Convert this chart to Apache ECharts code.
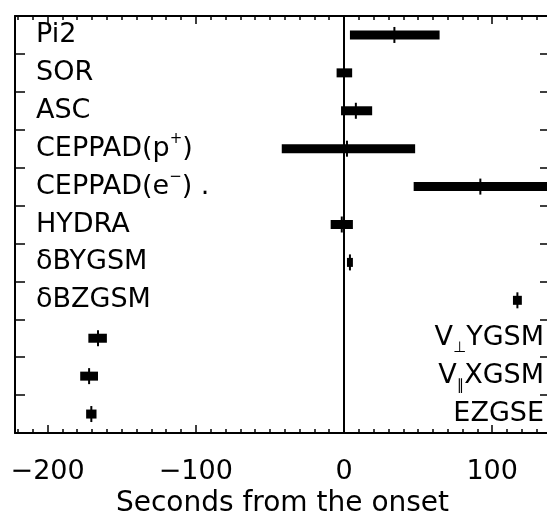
<!DOCTYPE html>
<html>
<head>
<meta charset="utf-8">
<script src="https://cdn.jsdelivr.net/npm/echarts@6/dist/echarts.min.js"></script>
<style>
  html, body { margin: 0; padding: 0; background: #fff; }
  #main { width: 547px; height: 511px; }
</style>
</head>
<body>
<div id="main"></div>
<script>
// rows, top to bottom
const categories = ['Pi2', 'SOR', 'ASC', 'CEPPAD(p+)', 'CEPPAD(e-)', 'HYDRA', 'δBYGSM', 'δBZGSM', 'V⊥YGSM', 'V∥XGSM', 'EZGSE'];
// how the labels are written (rich text for the small super/subscripts)
const rowLabels = ['Pi2', 'SOR', 'ASC', 'CEPPAD(p{sup|+})', 'CEPPAD(e{sup|−}) .', 'HYDRA', 'δBYGSM', 'δBZGSM', 'V{sub|⊥}YGSM', 'V{sub|∥}XGSM', 'EZGSE'];
const leftRows = 8; // first 8 labels on the left, the rest on the right

// seconds from the onset: start / end of the range and the centre mark
const startSec = [4, -5, -2, -42, 47, -9, 2, 114, -172.5, -178, -174];
const endSec = [64.5, 5.5, 19, 48, 138, 6, 6, 120, -160, -166, -167];
const midSec = [34, 0, 8, 2, 92, -1.5, 4, 117, -166, -172, -170.5];

const majorTicks = [-200, -100, 0, 100];
const minorTicks = [-220, -210, -190, -180, -170, -160, -150, -140, -130, -120, -110,
  -90, -80, -70, -60, -50, -40, -30, -20, -10,
  10, 20, 30, 40, 50, 60, 70, 80, 90, 110, 120, 130];

const font = 'DejaVu Sans';
const xMin = -222, xMax = 139;

let chart = echarts.init(document.getElementById('main'));

let richStyles = {
  sup: { fontSize: 15, fontFamily: font, color: '#000', verticalAlign: 'top', lineHeight: 15 },
  sub: { fontSize: 15, fontFamily: font, color: '#000', verticalAlign: 'bottom', lineHeight: 15 }
};

function renderItem(params, api) {
  let row = api.value(3);
  let a = api.coord([api.value(0), row]);
  let b = api.coord([api.value(1), row]);
  let m = api.coord([api.value(2), row]);
  let cs = params.coordSys;
  let rect = echarts.graphic.clipRectByRect(
    { x: a[0], y: a[1] - 4.5, width: b[0] - a[0], height: 9 },
    { x: cs.x, y: cs.y, width: cs.width, height: cs.height }
  );
  return {
    type: 'group',
    children: [
      { type: 'rect', shape: rect, style: { fill: '#000' } },
      { type: 'line', shape: { x1: m[0], y1: m[1] - 8, x2: m[0], y2: m[1] + 8 }, style: { stroke: '#000', lineWidth: 2 } }
    ]
  };
}

function xAxisOf(pos, ticks, len, withLine, withLabel) {
  return {
    type: 'value',
    position: pos,
    min: xMin,
    max: xMax,
    splitLine: { show: false },
    axisLine: { show: withLine, onZero: false, lineStyle: { color: '#000', width: 2 } },
    axisTick: { show: true, inside: true, length: len, customValues: ticks, lineStyle: { color: '#000', width: 1.5 } },
    axisLabel: {
      show: withLabel,
      customValues: majorTicks,
      margin: 25,
      fontSize: 27,
      fontFamily: font,
      color: '#000',
      formatter: v => v < 0 ? '−' + Math.abs(v) : String(v)
    },
    name: withLabel ? 'Seconds from the onset' : '',
    nameLocation: 'middle',
    nameGap: 43,
    nameTextStyle: { fontSize: 28, fontFamily: font, color: '#000' }
  };
}

function yAxisOf(pos, showLabel) {
  return {
    type: 'category',
    position: pos,
    inverse: true,
    data: categories,
    axisLine: { show: true, onZero: false, lineStyle: { color: '#000', width: 2 } },
    axisTick: { show: true, inside: true, length: 10, lineStyle: { color: '#000', width: 1.5 } },
    splitLine: { show: false },
    axisLabel: {
      inside: true,
      margin: pos === 'left' ? 21 : 6,
      fontSize: 27,
      fontFamily: font,
      color: '#000',
      lineHeight: 34,
      formatter: (v, i) => showLabel(i) ? rowLabels[i] : '',
      rich: richStyles
    }
  };
}

let option = {
  animation: false,
  backgroundColor: '#fff',
  grid: { left: 15, top: 16, width: 535, height: 417, outerBoundsMode: 'none', containLabel: false },
  xAxis: [
    xAxisOf('bottom', majorTicks, 8, true, true),
    xAxisOf('bottom', minorTicks, 4, false, false),
    xAxisOf('top', majorTicks, 8, true, false),
    xAxisOf('top', minorTicks, 4, false, false)
  ],
  yAxis: [
    yAxisOf('left', i => i < leftRows),
    yAxisOf('right', i => i >= leftRows),
    // plain 0..1 axis, only used to run the onset line from bottom to top
    { type: 'value', min: 0, max: 1, show: false }
  ],
  series: [
    {
      type: 'custom',
      xAxisIndex: 0,
      yAxisIndex: 0,
      renderItem: renderItem,
      encode: { x: [0, 1, 2], y: 3 },
      data: categories.map((c, i) => [startSec[i], endSec[i], midSec[i], i])
    },
    {
      type: 'line',
      xAxisIndex: 0,
      yAxisIndex: 2,
      symbol: 'none',
      silent: true,
      lineStyle: { color: '#000', width: 2 },
      data: [[0, 0], [0, 1]]
    }
  ]
};

chart.setOption(option);
</script>
</body>
</html>
